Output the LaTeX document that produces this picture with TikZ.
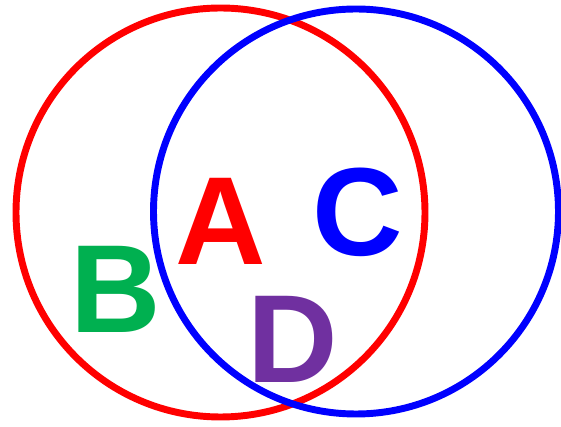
\documentclass[tikz,border=0pt]{standalone}
\usepackage{fontspec}
\setmainfont{Liberation Sans}
\usepackage{tikz}
\definecolor{setgreen}{HTML}{00B050}
\definecolor{setpurple}{HTML}{7030A0}

\begin{document}
\begin{tikzpicture}[
  x=0.75pt, y=-0.75pt,
  ring/.style={line width=5.2pt},
  letter/.style={font=\fontsize{94}{94}\selectfont\bfseries, inner sep=0pt, anchor=base},
]
\useasboundingbox (0,0) rectangle (561,427);
% Sets
\draw[ring, red] (220.5,212.5) circle[radius=204.5*0.75pt];
\draw[ring, blue] (356,211.5) circle[radius=202.5*0.75pt];

% Labels
\node[letter, red] (lblA) at (221,265) {A};
\node[letter, setgreen] (lblB) at (116,333) {B};
\node[letter, blue] (lblC) at (358,256) {C};
\node[letter, setpurple] (lblD) at (293,383) {D};
\end{tikzpicture}
\end{document}
